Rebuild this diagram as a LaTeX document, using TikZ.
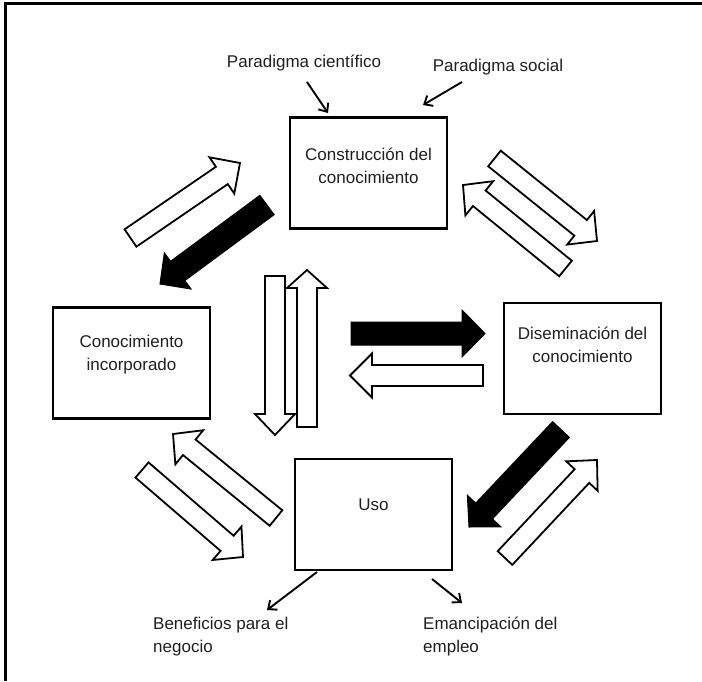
\documentclass[tikz,border=0pt]{standalone}
\usepackage{fontspec}
\setmainfont{Liberation Sans}
\usetikzlibrary{calc,arrows.meta}

% Block arrow: #1 style, #2 tail coordinate, #3 tip coordinate,
% #4 half shaft width, #5 half head width, #6 head length
\newcommand\blockarrow[6]{%
  \coordinate (ba-h) at ($(#3)!#6!(#2)$);
  \draw[#1] ($(#2)!#4!90:(#3)$) -- ($(ba-h)!#4!90:(#3)$) -- ($(ba-h)!#5!90:(#3)$)
    -- (#3) -- ($(ba-h)!#5!-90:(#3)$) -- ($(ba-h)!#4!-90:(#3)$)
    -- ($(#2)!#4!-90:(#3)$) -- cycle;
}

\begin{document}
\begin{tikzpicture}[x=1pt,y=-1pt,
  box/.style={draw, line width=2.6pt, minimum width=157pt, minimum height=111pt, inner sep=0pt},
  txt/.style={align=center, font=\fontsize{17}{23}\selectfont, text=black!88, inner sep=0pt},
  lab/.style={align=left, font=\fontsize{17}{23}\selectfont, text=black!88, inner sep=0pt},
  thinarr/.style={line width=1.9pt, -{Straight Barb[length=7pt,width=12pt,line width=1.9pt]}},
  whiteblock/.style={draw, fill=white, line width=1.8pt, line join=miter},
  blackblock/.style={draw, fill=black, line width=1pt, line join=miter}]

\useasboundingbox (0,0) rectangle (702,681);

% outer frame (left and top edges)
\draw[line width=3pt] (5.7,681) -- (5.7,3.7) -- (702,3.7);

% the four stages
\node[box] (cons) at (368.5,173) {};
\node[box] (inc)  at (131.5,363) {};
\node[box] (dis)  at (582.5,358.5) {};
\node[box] (uso)  at (373.5,514.5) {};

\node[txt] (consT) at (368.5,166) {Construcción del\\conocimiento};
\node[txt] (incT)  at (131.5,355) {Conocimiento\\incorporado};
\node[txt] (disT)  at (582.5,345) {Diseminación del\\conocimiento};
\node[txt] (usoT)  at (373.5,505) {Uso};

% external labels
\node[txt] (pc) at (304,63) {Paradigma científico};
\node[txt] (ps) at (498,67) {Paradigma social};
\node[lab, anchor=west] (ben) at (153,636.5) {Beneficios para el\\negocio};
\node[lab, anchor=west] (eme) at (423,636.5) {Emancipación del\\empleo};

% thin connectors
\coordinate (pcA) at (307,82);   \coordinate (pcB) at (328,113);
\coordinate (psA) at (462,82);   \coordinate (psB) at (423,105);
\coordinate (beA) at (317,572);  \coordinate (beB) at (267,610);
\coordinate (emA) at (432,579);  \coordinate (emB) at (462,603);
\draw[thinarr] (pcA) -- (pcB);
\draw[thinarr] (psA) -- (psB);
\draw[thinarr] (beA) -- (beB);
\draw[thinarr] (emA) -- (emB);

% block arrow end points
\coordinate (a1t) at (130.5,238);  \coordinate (a1h) at (240,163);
\coordinate (a2t) at (267,205);    \coordinate (a2h) at (160,284);
\coordinate (a3t) at (494.5,158.5);\coordinate (a3h) at (597,241);
\coordinate (a4t) at (565.5,268.5);\coordinate (a4h) at (463,185);
\coordinate (a5t) at (351,333.5);  \coordinate (a5h) at (485,333.5);
\coordinate (a6t) at (483,375.5);  \coordinate (a6h) at (350,375.5);
\coordinate (a7t) at (275,276);    \coordinate (a7h) at (275,435);
\coordinate (a8t) at (307,427);    \coordinate (a8h) at (307,270);
\coordinate (a9t) at (276,518);    \coordinate (a9h) at (173,434);
\coordinate (a10t) at (142,470);   \coordinate (a10h) at (243,557);
\coordinate (a11t) at (561,429.5); \coordinate (a11h) at (469,527);
\coordinate (a12t) at (505,558);   \coordinate (a12h) at (597,460);

\blockarrow{whiteblock}{a1t}{a1h}{10.5pt}{22pt}{22pt}
\blockarrow{blackblock}{a2t}{a2h}{12pt}{22.5pt}{22pt}
\blockarrow{whiteblock}{a3t}{a3h}{10pt}{21.5pt}{21pt}
\blockarrow{whiteblock}{a4t}{a4h}{10pt}{22pt}{21pt}
\blockarrow{blackblock}{a5t}{a5h}{11.5pt}{23.5pt}{23pt}
\blockarrow{whiteblock}{a6t}{a6h}{10.5pt}{22pt}{22pt}
\blockarrow{whiteblock}{a8t}{a8h}{10pt}{20pt}{18pt}
\blockarrow{whiteblock}{a7t}{a7h}{10pt}{20pt}{21pt}
\blockarrow{whiteblock}{a9t}{a9h}{10pt}{22pt}{21pt}
\blockarrow{whiteblock}{a10t}{a10h}{10pt}{22pt}{21pt}
\blockarrow{blackblock}{a11t}{a11h}{11.5pt}{23pt}{22pt}
\blockarrow{whiteblock}{a12t}{a12h}{10pt}{21.5pt}{22pt}
\end{tikzpicture}
\end{document}
